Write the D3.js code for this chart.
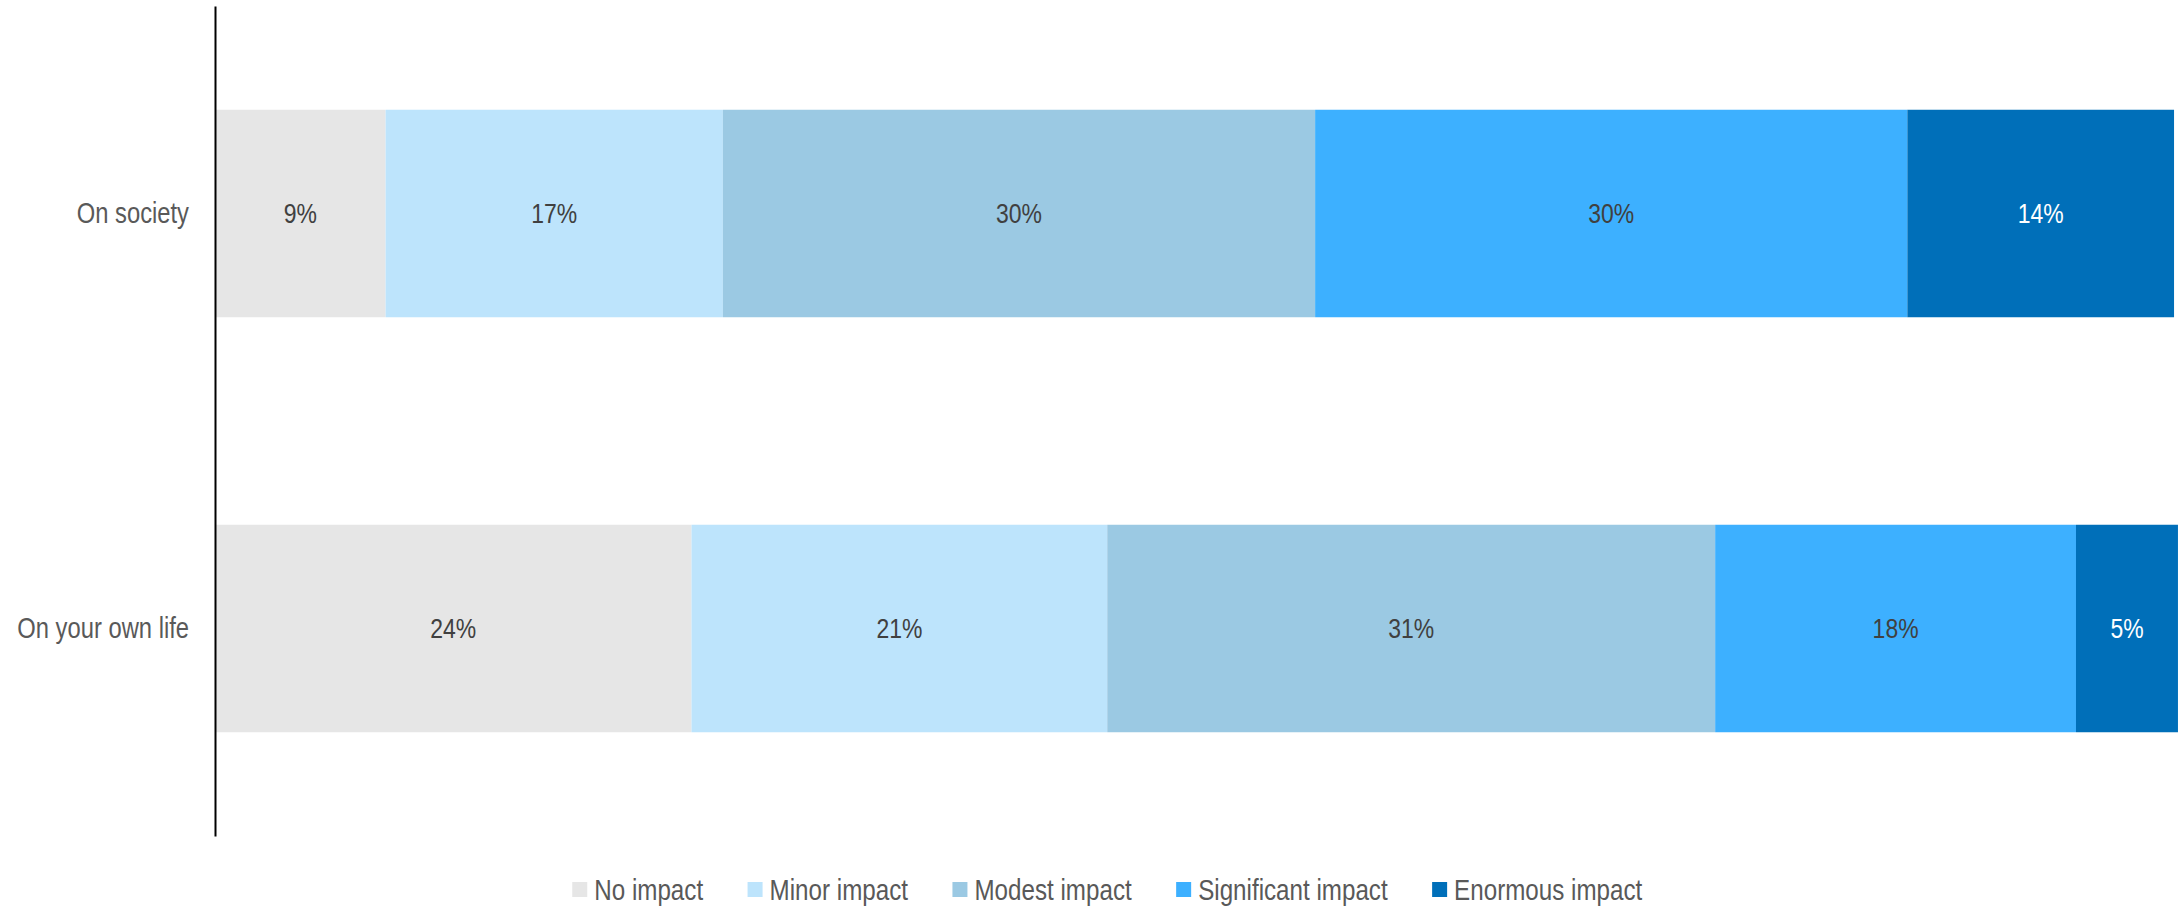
<!DOCTYPE html>
<html>
<head>
<meta charset="utf-8">
<script src="https://cdn.jsdelivr.net/npm/d3@7"></script>
<style>
    body { margin: 0; background: #fff; }
    svg { display: block; font-family: "Liberation Sans Narrow", "Arial Narrow", "Liberation Sans", Arial, sans-serif; }
</style>
</head>
<body>
<svg class="chart"></svg>
<script>
var categories = ["On society", "On your own life"];
var seriesNames = ["No impact", "Minor impact", "Modest impact", "Significant impact", "Enormous impact"];
var seriesColors = ["#e6e6e6", "#bde4fc", "#9bc9e3", "#3db0ff", "#006fb9"];
var labelColors = ["#404040", "#404040", "#404040", "#404040", "#ffffff"];
// shares in percent, one array per category
var onSociety = [8.7, 17.2, 30.2, 30.2, 13.6];
var onOwnLife = [24.3, 21.2, 31.0, 18.4, 5.2];
// printed labels
var onSocietyLabels = ["9%", "17%", "30%", "30%", "14%"];
var onOwnLifeLabels = ["24%", "21%", "31%", "18%", "5%"];

var values = [onSociety, onOwnLife];
var labels = [onSocietyLabels, onOwnLifeLabels];

// no narrow face installed, so squeeze the regular one
var squeeze = 0.82;

var W = 2178, H = 906;
var margin = {top: 6, right: 2, bottom: 70, left: 215},
    width = W - margin.left - margin.right,
    height = H - margin.top - margin.bottom;

var svg = d3.select(".chart")
    .attr("width", W)
    .attr("height", H);

var g = svg.append("g")
    .attr("transform", "translate(" + margin.left + "," + margin.top + ")");

var x = d3.scaleLinear().domain([0, 100]).range([0, width]);
var y = d3.scaleBand().domain(categories).range([0, height]).paddingInner(0.5).paddingOuter(0.25);

// build stacked rows
var rows = categories.map(function(c, i) {
    var row = {};
    row.category = c;
    seriesNames.forEach(function(s, j) { row[s] = values[i][j]; });
    return row;
});
var stack = d3.stack().keys(seriesNames)(rows);

var layers = g.selectAll("g.layer")
    .data(stack)
    .enter()
    .append("g")
    .attr("class", "layer")
    .attr("fill", function(d, j) { return seriesColors[j]; });

layers.selectAll("rect")
    .data(function(d) { return d; })
    .enter()
    .append("rect")
    .attr("x", function(d) { return x(d[0]); })
    .attr("y", function(d) { return y(d.data.category); })
    .attr("width", function(d) { return x(d[1]) - x(d[0]); })
    .attr("height", y.bandwidth());

layers.each(function(layer, j) {
    d3.select(this).selectAll("text")
        .data(layer)
        .enter()
        .append("text")
        .attr("transform", function(d) {
            return "translate(" + ((x(d[0]) + x(d[1])) / 2) + "," + (y(d.data.category) + y.bandwidth() / 2) + ") scale(" + squeeze + ",1)";
        })
        .attr("dy", "0.35em")
        .attr("text-anchor", "middle")
        .attr("fill", labelColors[j])
        .style("font-size", "28px")
        .text(function(d, i) { return labels[i][j]; });
});

// y axis
var yAxis = d3.axisLeft(y).tickSize(0).tickPadding(26);
var axisGroup = g.append("g")
    .attr("class", "y axis")
    .call(yAxis);
axisGroup.select(".domain").attr("stroke", "#000").attr("stroke-width", 2);
axisGroup.selectAll("text")
    .attr("x", -26 / squeeze)
    .attr("transform", "scale(" + squeeze + ",1)")
    .attr("fill", "#595959")
    .style("font-size", "29px");

// legend
var legend = svg.append("g").attr("class", "legend");
var items = legend.selectAll("g")
    .data(seriesNames)
    .enter()
    .append("g");
items.append("rect")
    .attr("width", 15)
    .attr("height", 15)
    .attr("y", -8)
    .attr("fill", function(d, j) { return seriesColors[j]; });
items.append("text")
    .attr("x", 22 / squeeze)
    .attr("transform", "scale(" + squeeze + ",1)")
    .attr("dy", "0.35em")
    .attr("fill", "#595959")
    .style("font-size", "29.5px")
    .text(function(d) { return d; });

var pos = 0;
items.each(function() {
    var w = this.getBBox().width;
    d3.select(this).attr("transform", "translate(" + pos + ",0)");
    pos += w + 44;
});
var total = pos - 44;
legend.attr("transform", "translate(" + (1107.5 - total / 2) + ",890)");
</script>
</body>
</html>
